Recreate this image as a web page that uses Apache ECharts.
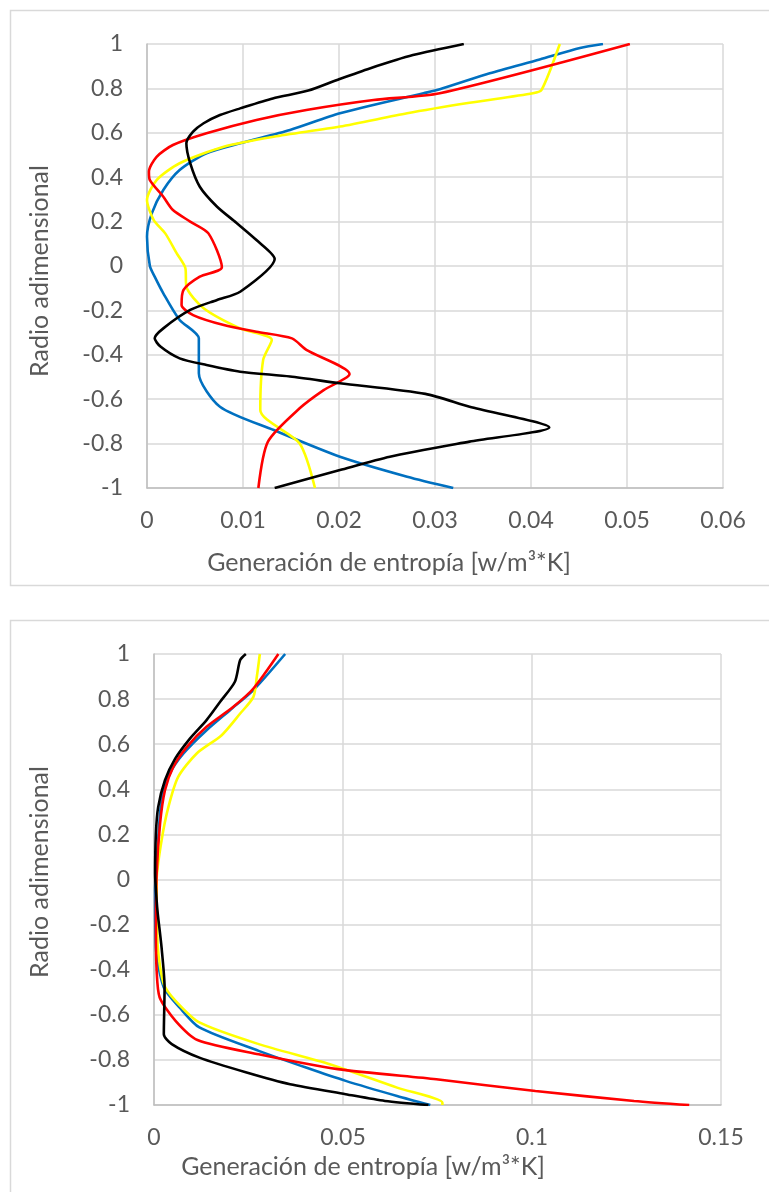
<!DOCTYPE html>
<html>
<head>
<meta charset="utf-8">
<script src="https://cdn.jsdelivr.net/npm/echarts@6/dist/echarts.min.js"></script>
<style>
  html, body { margin: 0; padding: 0; background: #ffffff; }
  #chart { width: 769px; height: 1192px; }
</style>
</head>
<body>
<div id="chart"></div>
<script>
// Entropy generation profiles [x = generation, y = dimensionless radius]
// Upper panel
const upperBlack = [[0.0330,1.0],[0.0277,0.95],[0.0232,0.89],[0.0198,0.838],[0.0168,0.79],[0.0131,0.755],[0.0097,0.71],[0.0076,0.68],[0.0059,0.643],[0.0048,0.605],[0.0041,0.553],[0.0045,0.463],[0.0055,0.357],[0.0073,0.267],[0.0093,0.195],[0.0114,0.117],[0.0133,0.032],[0.0097,-0.116],[0.0073,-0.153],[0.0045,-0.198],[0.0017,-0.281],[0.0008,-0.326],[0.0014,-0.363],[0.0034,-0.416],[0.0062,-0.446],[0.0097,-0.476],[0.0149,-0.498],[0.0201,-0.528],[0.0290,-0.576],[0.0336,-0.634],[0.0419,-0.727],[0.0336,-0.791],[0.0253,-0.859],[0.0201,-0.919],[0.0133,-1.0]];
const upperRed = [[0.0503,1.0],[0.0305,0.778],[0.0236,0.748],[0.0166,0.703],[0.0114,0.658],[0.0062,0.598],[0.0027,0.545],[0.0010,0.492],[0.0002,0.425],[0.0003,0.387],[0.0017,0.312],[0.0027,0.252],[0.0045,0.2],[0.0064,0.147],[0.0078,-0.006],[0.0055,-0.048],[0.0038,-0.108],[0.0036,-0.176],[0.0048,-0.221],[0.0080,-0.266],[0.0114,-0.296],[0.0151,-0.326],[0.0166,-0.378],[0.0211,-0.486],[0.0184,-0.559],[0.0159,-0.641],[0.0126,-0.791],[0.0116,-1.0]];
const upperBlue = [[0.0475,1.0],[0.0451,0.982],[0.0409,0.93],[0.0357,0.868],[0.0305,0.796],[0.0288,0.778],[0.0201,0.688],[0.0149,0.613],[0.0097,0.553],[0.0062,0.508],[0.0034,0.432],[0.0017,0.342],[0.0005,0.237],[0.0000,0.132],[0.0003,0.0],[0.0008,-0.048],[0.0017,-0.123],[0.0034,-0.243],[0.0054,-0.326],[0.0054,-0.483],[0.0076,-0.634],[0.0132,-0.739],[0.0201,-0.859],[0.0271,-0.949],[0.0319,-1.0]];
const upperYellow = [[0.0430,1.0],[0.0411,0.793],[0.0402,0.778],[0.0336,0.735],[0.0271,0.688],[0.0201,0.628],[0.0132,0.582],[0.0080,0.537],[0.0034,0.463],[0.0010,0.387],[0.0000,0.297],[0.0007,0.207],[0.0019,0.147],[0.0031,0.057],[0.0040,-0.01],[0.0041,-0.093],[0.0059,-0.19],[0.0097,-0.281],[0.0130,-0.333],[0.0121,-0.423],[0.0118,-0.649],[0.0159,-0.799],[0.0175,-1.0]];

// Lower panel
const lowerBlack = [[0.0243,1.0],[0.0228,0.973],[0.0214,0.877],[0.0175,0.788],[0.0139,0.707],[0.0095,0.625],[0.0056,0.536],[0.0029,0.44],[0.0011,0.321],[0.0005,0.203],[0.0003,0.025],[0.0007,-0.093],[0.0010,-0.152],[0.0020,-0.301],[0.0028,-0.479],[0.0026,-0.686],[0.0047,-0.73],[0.0120,-0.79],[0.0245,-0.856],[0.0360,-0.908],[0.0507,-0.952],[0.0611,-0.982],[0.0726,-1.0]];
const lowerRed = [[0.0329,1.0],[0.0263,0.847],[0.0210,0.766],[0.0139,0.677],[0.0087,0.588],[0.0051,0.499],[0.0029,0.396],[0.0016,0.248],[0.0007,0.025],[0.0005,-0.227],[0.0007,-0.404],[0.0015,-0.523],[0.0057,-0.627],[0.0115,-0.712],[0.0277,-0.775],[0.0486,-0.841],[0.0747,-0.886],[0.1009,-0.938],[0.1270,-0.982],[0.1416,-1.0]];
const lowerBlue = [[0.0347,1.0],[0.0263,0.84],[0.0201,0.751],[0.0139,0.662],[0.0078,0.559],[0.0042,0.47],[0.0020,0.351],[0.0011,0.173],[0.0003,-0.049],[0.0005,-0.301],[0.0026,-0.479],[0.0068,-0.568],[0.0120,-0.656],[0.0277,-0.76],[0.0402,-0.834],[0.0507,-0.893],[0.0643,-0.96],[0.0731,-1.0]];
const lowerYellow = [[0.0280,1.0],[0.0272,0.899],[0.0263,0.81],[0.0228,0.736],[0.0179,0.64],[0.0113,0.559],[0.0064,0.455],[0.0038,0.321],[0.0020,0.173],[0.0007,-0.004],[0.0010,-0.301],[0.0026,-0.464],[0.0057,-0.538],[0.0120,-0.634],[0.0277,-0.73],[0.0465,-0.819],[0.0643,-0.923],[0.0763,-0.99],[0.0763,-1.0]];

// Axis ranges and texts
const upperXMax = 0.06, upperXStep = 0.01;
const lowerXMax = 0.15, lowerXStep = 0.05;
const radiusMin = -1, radiusMax = 1, radiusStep = 0.2;
const xTitle = 'Generación de entropía [w/m³*K]';
const yTitle = 'Radio adimensional';

const FONT = 'Lato, "Open Sans", sans-serif';
const TEXT = '#595959';
const GRID = '#d9d9d9';
const AXIS = '#bfbfbf';
const TICK_SIZE = 23;
const TITLE_SIZE = 25;
const colors = { black: '#000000', red: '#ff0000', blue: '#0070c0', yellow: '#ffff00' };

function xAxisFor(idx, max, step) {
  return {
    type: 'value', gridIndex: idx, min: 0, max: max, interval: step,
    axisLine: { show: true, onZero: false, lineStyle: { color: AXIS, width: 1.5 } },
    axisTick: { show: false },
    splitLine: { show: true, lineStyle: { color: GRID, width: 1.5 } },
    axisLabel: { color: TEXT, fontFamily: FONT, fontSize: TICK_SIZE, margin: 21 }
  };
}
function yAxisFor(idx) {
  return {
    type: 'value', gridIndex: idx, min: radiusMin, max: radiusMax, interval: radiusStep,
    axisLine: { show: true, onZero: false, lineStyle: { color: AXIS, width: 1.5 } },
    axisTick: { show: false },
    splitLine: { show: true, lineStyle: { color: GRID, width: 1.5 } },
    axisLabel: { color: TEXT, fontFamily: FONT, fontSize: TICK_SIZE, margin: 24,
      formatter: v => String(Math.round(v * 10) / 10) }
  };
}
function lineSeries(idx, data, color) {
  return {
    type: 'line', xAxisIndex: idx, yAxisIndex: idx, data: data,
    showSymbol: false, smooth: 0.25, silent: true,
    lineStyle: { color: color, width: 2.6 }
  };
}
function titleText(text, x, y, rotate) {
  return {
    type: 'text', x: x, y: y, rotation: rotate ? Math.PI / 2 : 0,
    style: { text: text, fill: TEXT, font: TITLE_SIZE + 'px ' + FONT,
      textAlign: 'center', textVerticalAlign: 'middle' }
  };
}

const chart = echarts.init(document.getElementById('chart'), null, { renderer: 'canvas' });
chart.setOption({
  animation: false,
  backgroundColor: '#ffffff',
  graphic: [
    { type: 'rect', shape: { x: 10.5, y: 10.5, width: 800, height: 575 },
      style: { fill: 'none', stroke: GRID, lineWidth: 1.5 } },
    { type: 'rect', shape: { x: 10.5, y: 620.5, width: 800, height: 620 },
      style: { fill: 'none', stroke: GRID, lineWidth: 1.5 } },
    titleText(xTitle, 389, 563, false),
    titleText(yTitle, 40, 271, true),
    titleText(xTitle, 363, 1167, false),
    titleText(yTitle, 40, 872, true)
  ],
  grid: [
    { left: 147, top: 44, width: 576, height: 444 },
    { left: 154, top: 654, width: 567, height: 451 }
  ],
  xAxis: [xAxisFor(0, upperXMax, upperXStep), xAxisFor(1, lowerXMax, lowerXStep)],
  yAxis: [yAxisFor(0), yAxisFor(1)],
  series: [
    lineSeries(0, upperBlue, colors.blue),
    lineSeries(0, upperYellow, colors.yellow),
    lineSeries(0, upperRed, colors.red),
    lineSeries(0, upperBlack, colors.black),
    lineSeries(1, lowerBlue, colors.blue),
    lineSeries(1, lowerYellow, colors.yellow),
    lineSeries(1, lowerRed, colors.red),
    lineSeries(1, lowerBlack, colors.black)
  ]
});
</script>
</body>
</html>
